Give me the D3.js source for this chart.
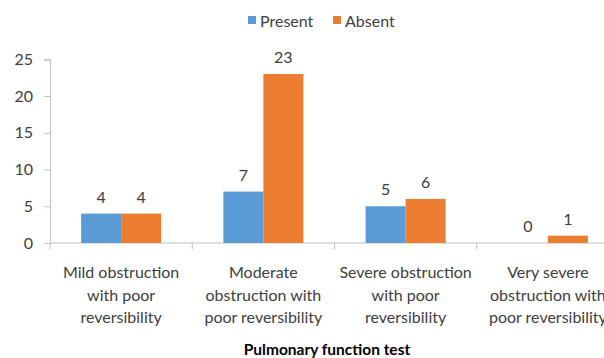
<!DOCTYPE html>
<html>
<head>
<meta charset="utf-8">
<script src="https://cdn.jsdelivr.net/npm/d3@7"></script>
<style>
  html, body { margin: 0; padding: 0; background: #fff; }
  svg { display: block; }
  text { font-family: Lato, "Open Sans", sans-serif; }
</style>
</head>
<body>
<svg id="chart" width="604" height="358"></svg>
<script>
// Pulmonary function test results, grouped by presence of the finding
const categories = [
  ["Mild obstruction", "with poor", "reversibility"],
  ["Moderate", "obstruction with", "poor reversibility"],
  ["Severe obstruction", "with poor", "reversibility"],
  ["Very severe", "obstruction with", "poor reversibility"]
];
const seriesNames = ["Present", "Absent"];
const presentValues = [4, 7, 5, 0];
const absentValues = [4, 23, 6, 1];
const yTicks = [0, 5, 10, 15, 20, 25];
const colors = ["#5b9bd5", "#ed7d31"];
const xTitle = "Pulmonary function test";

const svg = d3.select("#chart");
const plot = { left: 50, right: 619, top: 59.3, bottom: 243 };

const x = d3.scaleBand()
  .domain(d3.range(categories.length))
  .range([plot.left, plot.right])
  .paddingInner(0).paddingOuter(0);

const xInner = d3.scaleBand()
  .domain(seriesNames)
  .range([x.bandwidth() / 2 - 40, x.bandwidth() / 2 + 40]);

const y = d3.scaleLinear().domain([0, 25]).range([plot.bottom, plot.top]);

const axisColor = "#bfbfbf";
const textColor = "#404040";

// Y axis
const yAxis = svg.append("g")
  .attr("transform", `translate(${plot.left},0)`)
  .call(d3.axisLeft(y).tickValues(yTicks).tickSize(6).tickPadding(11));
yAxis.select(".domain").attr("stroke", axisColor);
yAxis.selectAll(".tick line").attr("stroke", axisColor);
yAxis.selectAll(".tick text")
  .attr("fill", textColor).style("font-size", "16px");

// X axis with ticks on category boundaries
const xAxisG = svg.append("g").attr("transform", `translate(0,${plot.bottom})`);
xAxisG.append("line")
  .attr("x1", plot.left).attr("x2", plot.right)
  .attr("stroke", axisColor);
xAxisG.selectAll("line.tick")
  .data(d3.range(categories.length + 1))
  .join("line")
  .attr("class", "tick")
  .attr("x1", i => plot.left + i * x.step())
  .attr("x2", i => plot.left + i * x.step())
  .attr("y1", 0).attr("y2", 6)
  .attr("stroke", axisColor);

// Category labels
const labels = svg.append("g");
categories.forEach((lines, i) => {
  const t = labels.append("text")
    .attr("x", x(i) + x.bandwidth() / 2)
    .attr("y", 278)
    .attr("text-anchor", "middle")
    .attr("fill", textColor)
    .style("font-size", "16px");
  lines.forEach((ln, j) => {
    t.append("tspan")
      .attr("x", x(i) + x.bandwidth() / 2)
      .attr("dy", j === 0 ? 0 : 22.5)
      .text(ln);
  });
});

// Bars
const series = [presentValues, absentValues];
series.forEach((vals, s) => {
  const g = svg.append("g");
  g.selectAll("rect")
    .data(vals)
    .join("rect")
    .attr("x", (d, i) => x(i) + xInner(seriesNames[s]))
    .attr("y", d => y(d))
    .attr("width", xInner.bandwidth())
    .attr("height", d => y(0) - y(d))
    .attr("fill", colors[s]);
  g.selectAll("text")
    .data(vals)
    .join("text")
    .attr("x", (d, i) => x(i) + xInner(seriesNames[s]) + xInner.bandwidth() / 2)
    .attr("y", d => y(d) - 11)
    .attr("text-anchor", "middle")
    .attr("fill", textColor)
    .style("font-size", "16px")
    .text(d => d);
});

// X axis title
svg.append("text")
  .attr("x", 327)
  .attr("y", 355)
  .attr("text-anchor", "middle")
  .attr("fill", "#000")
  .style("font-size", "15.5px")
  .style("font-weight", "bold")
  .text(xTitle);

// Legend
const legend = svg.append("g");
const legendX = [248, 333];
seriesNames.forEach((name, i) => {
  legend.append("rect")
    .attr("x", legendX[i]).attr("y", 16)
    .attr("width", 8).attr("height", 8)
    .attr("fill", colors[i]);
  legend.append("text")
    .attr("x", legendX[i] + 12).attr("y", 26.5)
    .attr("fill", textColor)
    .style("font-size", "16px")
    .text(name);
});
</script>
</body>
</html>
